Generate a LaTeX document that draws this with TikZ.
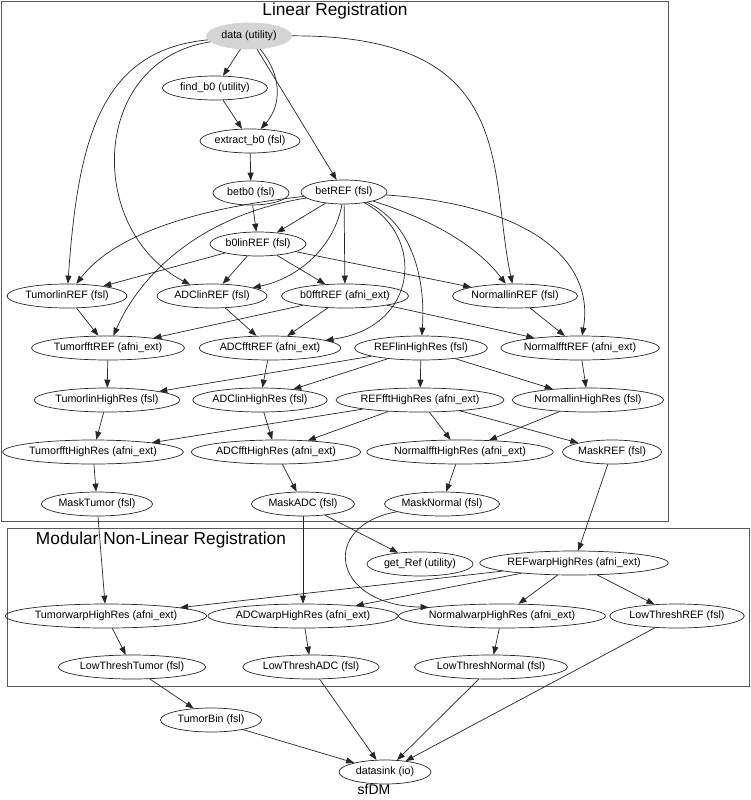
\documentclass[tikz,border=0pt]{standalone}
\usepackage{fontspec}
\setmainfont{Liberation Sans}
\usetikzlibrary{shapes.geometric,arrows.meta}
\begin{document}
\begin{tikzpicture}[x=1pt,y=-1pt,
  nd/.style={ellipse,draw=black!85,line width=0.7pt,minimum height=24pt,inner sep=0pt,font=\fontsize{10.7}{12}\selectfont},
  ed/.style={draw=black!85,line width=0.7pt,-{Triangle[length=8pt,width=6pt]}},
  clus/.style={draw=black!65,line width=0.9pt},
  ttl/.style={font=\fontsize{17.3}{20}\selectfont,inner sep=0pt}]
\useasboundingbox (0,0) rectangle (750,800);
% clusters
\draw[clus] (1,1) rectangle (668,521);
\draw[clus] (7,528) rectangle (749,686);
\node[ttl] (t1) at (335,11) {Linear Registration};
\node[ttl] (t2) at (161,540) {Modular Non-Linear Registration};
\node[font=\fontsize{14}{16}\selectfont,inner sep=0pt] (t3) at (374,789) {sfDM};
% nodes
\node[nd,fill=black!17,draw=black!17,minimum width=85,minimum height=26] (data) at (249,36) {data (utility)};
\node[nd,minimum width=105] (findb0) at (215,88) {find\_b0 (utility)};
\node[nd,minimum width=100] (extractb0) at (250,141) {extract\_b0 (fsl)};
\node[nd,minimum width=76] (betb0) at (251,193) {betb0 (fsl)};
\node[nd,minimum width=86] (betREF) at (344,192) {betREF (fsl)};
\node[nd,minimum width=96] (b0linREF) at (258,244) {b0linREF (fsl)};
\node[nd,minimum width=120] (TumorlinREF) at (67,296) {TumorlinREF (fsl)};
\node[nd,minimum width=110] (ADClinREF) at (212,296) {ADClinREF (fsl)};
\node[nd,minimum width=127] (b0fftREF) at (345,296) {b0fftREF (afni\_ext)};
\node[nd,minimum width=125] (NormallinREF) at (515,296) {NormallinREF (fsl)};
\node[nd,minimum width=150] (TumorfftREF) at (108,348) {TumorfftREF (afni\_ext)};
\node[nd,minimum width=140] (ADCfftREF) at (270,348) {ADCfftREF (afni\_ext)};
\node[nd,minimum width=128] (REFlinHighRes) at (421,348) {REFlinHighRes (fsl)};
\node[nd,minimum width=155] (NormalfftREF) at (580,348) {NormalfftREF (afni\_ext)};
\node[nd,minimum width=145] (TumorlinHighRes) at (107,400) {TumorlinHighRes (fsl)};
\node[nd,minimum width=134] (ADClinHighRes) at (260,400) {ADClinHighRes (fsl)};
\node[nd,minimum width=159] (REFfftHighRes) at (420,400) {REFfftHighRes (afni\_ext)};
\node[nd,minimum width=147] (NormallinHighRes) at (588,400) {NormallinHighRes (fsl)};
\node[nd,minimum width=173] (TumorfftHighRes) at (93,452) {TumorfftHighRes (afni\_ext)};
\node[nd,minimum width=165] (ADCfftHighRes) at (276,452) {ADCfftHighRes (afni\_ext)};
\node[nd,minimum width=176] (NormalfftHighRes) at (460,452) {NormalfftHighRes (afni\_ext)};
\node[nd,minimum width=99] (MaskREF) at (612,452) {MaskREF (fsl)};
\node[nd,minimum width=111] (MaskTumor) at (97,504) {MaskTumor (fsl)};
\node[nd,minimum width=103] (MaskADC) at (303,504) {MaskADC (fsl)};
\node[nd,minimum width=115] (MaskNormal) at (442,504) {MaskNormal (fsl)};
\node[nd,minimum width=106] (getRef) at (420,564) {get\_Ref (utility)};
\node[nd,minimum width=175] (REFwarpHighRes) at (574,563) {REFwarpHighRes (afni\_ext)};
\node[nd,minimum width=187] (TumorwarpHighRes) at (106,616) {TumorwarpHighRes (afni\_ext)};
\node[nd,minimum width=177] (ADCwarpHighRes) at (303,616) {ADCwarpHighRes (afni\_ext)};
\node[nd,minimum width=191] (NormalwarpHighRes) at (502,616) {NormalwarpHighRes (afni\_ext)};
\node[nd,minimum width=131] (LowThreshREF) at (677,616) {LowThreshREF (fsl)};
\node[nd,minimum width=145] (LowThreshTumor) at (132,667) {LowThreshTumor (fsl)};
\node[nd,minimum width=128] (LowThreshADC) at (311,667) {LowThreshADC (fsl)};
\node[nd,minimum width=148] (LowThreshNormal) at (491,667) {LowThreshNormal (fsl)};
\node[nd,minimum width=101] (TumorBin) at (211,720) {TumorBin (fsl)};
\node[nd,minimum width=92] (datasink) at (385,772) {datasink (io)};
% edges from data
\draw[ed] (data) -- (findb0);
\draw[ed] (data) .. controls (282,75) and (282,105) .. (extractb0);
\draw[ed] (data) -- (betREF);
\draw[ed] (data) .. controls (100,50) and (78,140) .. (TumorlinREF);
\draw[ed] (data) .. controls (90,60) and (85,230) .. (ADClinREF);
\draw[ed] (data) .. controls (520,35) and (488,170) .. (NormallinREF);
\draw[ed] (findb0) -- (extractb0);
\draw[ed] (extractb0) -- (betb0);
\draw[ed] (betb0) -- (b0linREF);
% edges from betREF
\draw[ed] (betREF) -- (b0linREF);
\draw[ed] (betREF) .. controls (180,210) and (110,240) .. (TumorlinREF);
\draw[ed] (betREF) .. controls (200,215) and (140,275) .. (TumorfftREF);
\draw[ed] (betREF) .. controls (335,245) and (300,278) .. (ADClinREF);
\draw[ed] (betREF) -- (b0fftREF);
\draw[ed] (betREF) .. controls (425,235) and (420,327) .. (ADCfftREF);
\draw[ed] (betREF) .. controls (410,222) and (426,275) .. (REFlinHighRes);
\draw[ed] (betREF) .. controls (440,222) and (480,250) .. (NormallinREF);
\draw[ed] (betREF) .. controls (530,205) and (595,260) .. (NormalfftREF);
% b0linREF
\draw[ed] (b0linREF) -- (TumorlinREF);
\draw[ed] (b0linREF) -- (ADClinREF);
\draw[ed] (b0linREF) -- (b0fftREF);
\draw[ed] (b0linREF) -- (NormallinREF);
% row 2 -> 3
\draw[ed] (TumorlinREF) -- (TumorfftREF);
\draw[ed] (ADClinREF) -- (ADCfftREF);
\draw[ed] (b0fftREF) -- (TumorfftREF);
\draw[ed] (b0fftREF) -- (ADCfftREF);
\draw[ed] (b0fftREF) -- (NormalfftREF);
\draw[ed] (NormallinREF) -- (NormalfftREF);
% row 3 -> 4
\draw[ed] (TumorfftREF) -- (TumorlinHighRes);
\draw[ed] (ADCfftREF) -- (ADClinHighRes);
\draw[ed] (REFlinHighRes) -- (TumorlinHighRes);
\draw[ed] (REFlinHighRes) -- (ADClinHighRes);
\draw[ed] (REFlinHighRes) -- (REFfftHighRes);
\draw[ed] (REFlinHighRes) -- (NormallinHighRes);
\draw[ed] (NormalfftREF) -- (NormallinHighRes);
% row 4 -> 5
\draw[ed] (TumorlinHighRes) -- (TumorfftHighRes);
\draw[ed] (ADClinHighRes) -- (ADCfftHighRes);
\draw[ed] (REFfftHighRes) -- (TumorfftHighRes);
\draw[ed] (REFfftHighRes) -- (ADCfftHighRes);
\draw[ed] (REFfftHighRes) -- (NormalfftHighRes);
\draw[ed] (REFfftHighRes) -- (MaskREF);
\draw[ed] (NormallinHighRes) -- (NormalfftHighRes);
% row 5 -> 6
\draw[ed] (TumorfftHighRes) -- (MaskTumor);
\draw[ed] (ADCfftHighRes) -- (MaskADC);
\draw[ed] (NormalfftHighRes) -- (MaskNormal);
% into non-linear
\draw[ed] (MaskREF) -- (REFwarpHighRes);
\draw[ed] (MaskTumor) -- (TumorwarpHighRes);
\draw[ed] (MaskADC) -- (ADCwarpHighRes);
\draw[ed] (MaskADC) -- (getRef);
\draw[ed] (MaskNormal) .. controls (320,525) and (330,605) .. (NormalwarpHighRes.north west);
\draw[ed] (REFwarpHighRes) -- (TumorwarpHighRes);
\draw[ed] (REFwarpHighRes) -- (ADCwarpHighRes);
\draw[ed] (REFwarpHighRes) -- (NormalwarpHighRes);
\draw[ed] (REFwarpHighRes) -- (LowThreshREF);
\draw[ed] (TumorwarpHighRes) -- (LowThreshTumor);
\draw[ed] (ADCwarpHighRes) -- (LowThreshADC);
\draw[ed] (NormalwarpHighRes) -- (LowThreshNormal);
\draw[ed] (LowThreshTumor) -- (TumorBin);
\draw[ed] (TumorBin) -- (datasink);
\draw[ed] (LowThreshADC) -- (datasink);
\draw[ed] (LowThreshNormal) -- (datasink);
\draw[ed] (LowThreshREF) -- (datasink);
\end{tikzpicture}
\end{document}
